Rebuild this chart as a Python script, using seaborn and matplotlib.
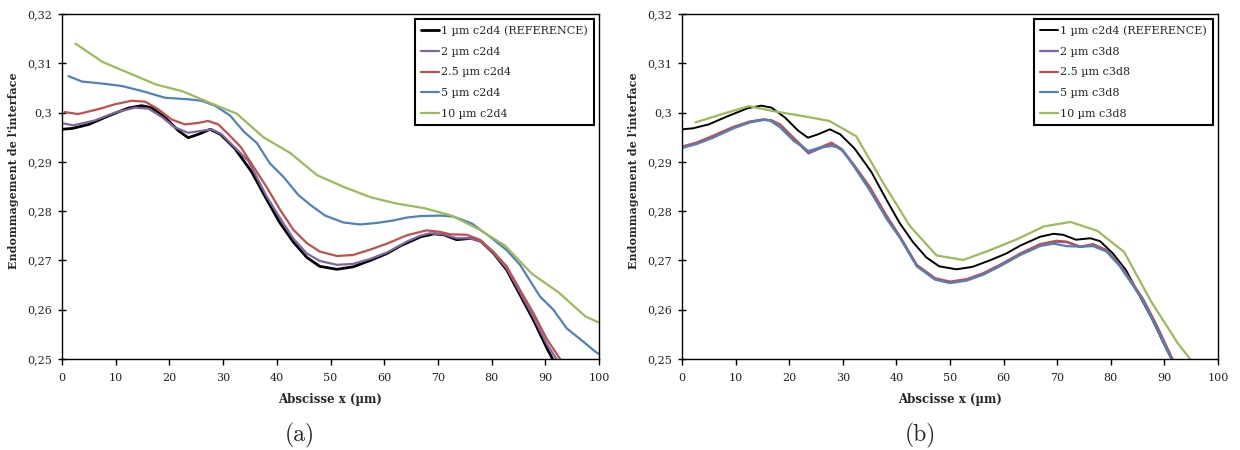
import matplotlib
matplotlib.use("Agg")
import matplotlib.pyplot as plt
import seaborn as sns
import pandas as pd
from matplotlib.ticker import FuncFormatter

# ---------------- data ----------------
# (a) c2d4
ref_x = [0, 2, 5, 8.6, 12.3, 14.8, 16.7, 19.2, 21.7, 23.5, 25.4, 27.6, 29.5, 32.2, 35.3,
         38.1, 40.6, 43.1, 45.6, 48.0, 51.2, 54.2, 57.4, 60.5, 63.1, 66.8, 69.3, 71.1,
         73.5, 76.2, 78.0, 80.4, 82.8, 85.3, 87.8, 90.3, 92.5]
ref_y = [0.2966, 0.2968, 0.2976, 0.2993, 0.3009, 0.3014, 0.3010, 0.2990, 0.2963, 0.2949,
         0.2956, 0.2966, 0.2956, 0.2927, 0.2880, 0.2824, 0.2776, 0.2737, 0.2706, 0.2688,
         0.2682, 0.2687, 0.2700, 0.2714, 0.2730, 0.2748, 0.2754, 0.2752, 0.2742, 0.2745,
         0.2739, 0.2714, 0.2681, 0.2630, 0.2579, 0.2522, 0.2476]

a2_x = [0.3, 2.1, 6.1, 9.9, 13.6, 16.1, 18.6, 21.0, 23.5, 26.0, 27.9, 29.7, 32.2, 34.7,
        38.1, 40.6, 43.1, 45.6, 48.0, 51.2, 54.2, 57.4, 60.5, 64.2, 66.7, 68.5, 71.0,
        73.5, 76.0, 78.0, 80.3, 82.8, 85.3, 87.8, 90.3, 93.0]
a2_y = [0.2978, 0.2974, 0.2984, 0.3000, 0.3010, 0.3008, 0.2991, 0.2970, 0.2959, 0.2963,
        0.2966, 0.2956, 0.2929, 0.2902, 0.2830, 0.2786, 0.2744, 0.2714, 0.2699, 0.2691,
        0.2693, 0.2703, 0.2716, 0.2738, 0.2750, 0.2755, 0.2753, 0.2745, 0.2745, 0.2738,
        0.2716, 0.2684, 0.2635, 0.2585, 0.2530, 0.2484]

a25_x = [0.5, 3.0, 6.8, 9.9, 13.0, 15.5, 17.9, 20.4, 22.9, 25.4, 27.2, 29.1, 31.0, 33.3,
         35.6, 38.1, 40.6, 43.1, 45.6, 48.0, 51.2, 54.2, 57.4, 60.5, 64.2, 67.9, 70.4,
         72.3, 75.4, 77.8, 80.3, 82.8, 85.3, 87.8, 90.3, 92.7, 94.5]
a25_y = [0.3001, 0.2997, 0.3007, 0.3017, 0.3024, 0.3022, 0.3007, 0.2986, 0.2976, 0.2979,
         0.2983, 0.2976, 0.2956, 0.2930, 0.2891, 0.2849, 0.2803, 0.2762, 0.2735, 0.2718,
         0.2709, 0.2711, 0.2722, 0.2734, 0.2751, 0.2761, 0.2758, 0.2753, 0.2752, 0.2742,
         0.2718, 0.2688, 0.2640, 0.2593, 0.2540, 0.2501, 0.2470]

a5_x = [1.2, 3.7, 7.4, 11.1, 14.8, 19.2, 23.5, 26.0, 28.5, 31.3, 33.8, 36.3, 38.7, 41.2,
        44.0, 46.2, 49.0, 52.4, 55.5, 58.6, 61.7, 64.2, 66.7, 70.4, 72.9, 76.3, 79.7,
        82.8, 85.3, 89.0, 91.5, 94.0, 97.1, 99.3, 100]
a5_y = [0.3074, 0.3063, 0.3059, 0.3054, 0.3044, 0.3030, 0.3027, 0.3024, 0.3014, 0.2994,
        0.2962, 0.2938, 0.2897, 0.2870, 0.2833, 0.2813, 0.2791, 0.2777, 0.2773, 0.2776,
        0.2781, 0.2787, 0.2790, 0.2791, 0.2789, 0.2775, 0.2748, 0.2721, 0.2691, 0.2627,
        0.2600, 0.2562, 0.2535, 0.2515, 0.2510]

a10_x = [2.5, 7.5, 12.5, 17.5, 22.5, 27.5, 32.5, 37.5, 42.5, 47.5, 52.5, 57.5, 62.5,
         67.5, 72.5, 77.5, 82.5, 87.5, 92.5, 97.5, 100]
a10_y = [0.3140, 0.3103, 0.3080, 0.3057, 0.3043, 0.3020, 0.2998, 0.2950, 0.2918, 0.2873,
         0.2849, 0.2828, 0.2815, 0.2806, 0.2791, 0.2764, 0.2730, 0.2673, 0.2635, 0.2586,
         0.2574]

# (b) c3d8
b_x = [0.3, 2.7, 5.8, 9.6, 12.7, 15.2, 16.7, 18.3, 20.8, 23.6, 25.7, 27.9, 29.8, 32.0,
       35.1, 38.2, 40.7, 43.8, 47.2, 50.0, 53.1, 56.2, 59.3, 63.1, 66.8, 69.9, 71.8,
       74.3, 76.7, 79.2, 81.7, 83.6, 86.0, 88.5, 91.5, 93.0]
b2_y = [0.2931, 0.2938, 0.2952, 0.2970, 0.2981, 0.2986, 0.2984, 0.2975, 0.2947, 0.2917,
        0.2927, 0.2937, 0.2924, 0.2894, 0.2846, 0.2789, 0.2747, 0.2690, 0.2663, 0.2656,
        0.2661, 0.2673, 0.2690, 0.2713, 0.2732, 0.2738, 0.2737, 0.2727, 0.2732, 0.2720,
        0.2690, 0.2660, 0.2621, 0.2568, 0.2499, 0.2464]
b25_y = [0.2932, 0.2939, 0.2953, 0.2971, 0.2982, 0.2986, 0.2984, 0.2976, 0.2949, 0.2920,
         0.2929, 0.2939, 0.2926, 0.2895, 0.2848, 0.2790, 0.2748, 0.2691, 0.2664, 0.2657,
         0.2662, 0.2674, 0.2691, 0.2714, 0.2733, 0.2740, 0.2738, 0.2728, 0.2733, 0.2721,
         0.2691, 0.2661, 0.2622, 0.2570, 0.2500, 0.2465]
b5_x = [0.3, 2.7, 5.8, 9.6, 12.7, 15.2, 16.4, 18.3, 20.8, 23.6, 25.7, 27.9, 28.9, 30.1,
        32.0, 35.1, 38.2, 40.7, 43.8, 47.2, 50.0, 53.1, 56.2, 59.3, 63.1, 66.8, 69.3,
        71.8, 74.3, 76.7, 79.2, 81.7, 83.6, 86.0, 88.5, 91.3, 93.0]
b5_y = [0.2929, 0.2936, 0.2949, 0.2968, 0.2980, 0.2985, 0.2984, 0.2970, 0.2943, 0.2922,
        0.2929, 0.2932, 0.2930, 0.2922, 0.2892, 0.2841, 0.2784, 0.2745, 0.2688, 0.2661,
        0.2654, 0.2659, 0.2671, 0.2688, 0.2711, 0.2729, 0.2734, 0.2729, 0.2728, 0.2729,
        0.2718, 0.2688, 0.2658, 0.2618, 0.2565, 0.2500, 0.2462]
b10_x = [2.5, 7.5, 12.5, 17.5, 22.5, 27.5, 32.5, 37.5, 42.5, 47.5, 52.5, 57.5, 62.5,
         67.5, 72.5, 77.5, 82.5, 87.5, 92.5, 97.5]
b10_y = [0.2980, 0.2997, 0.3013, 0.3002, 0.2993, 0.2983, 0.2952, 0.2858, 0.2770, 0.2710,
         0.2701, 0.2721, 0.2743, 0.2769, 0.2778, 0.2760, 0.2717, 0.2617, 0.2532, 0.2462]

labels_a = ["1 µm c2d4 (REFERENCE)", "2 µm c2d4", "2.5 µm c2d4", "5 µm c2d4", "10 µm c2d4"]
labels_b = ["1 µm c2d4 (REFERENCE)", "2 µm c3d8", "2.5 µm c3d8", "5 µm c3d8", "10 µm c3d8"]
colors = ["#000000", "#8064A2", "#C0504D", "#4F81BD", "#9BBB59"]

x_ticks = list(range(0, 101, 10))
y_ticks = [0.25, 0.26, 0.27, 0.28, 0.29, 0.30, 0.31, 0.32]

# ---------------- styling ----------------
sns.set_style("ticks")
plt.rcParams["font.family"] = ["DejaVu Serif"]

fig = plt.figure(figsize=(12.4, 4.5), dpi=100)
W, H = 1240, 450
axL = fig.add_axes([62 / W, 1 - 359 / H, 537 / W, 345 / H])
axR = fig.add_axes([682 / W, 1 - 359 / H, 536 / W, 345 / H])

series_a = [(ref_x, ref_y), (a2_x, a2_y), (a25_x, a25_y), (a5_x, a5_y), (a10_x, a10_y)]
series_b = [(ref_x, ref_y), (b_x, b2_y), (b_x, b25_y), (b5_x, b5_y), (b10_x, b10_y)]

fmt = FuncFormatter(lambda v, p: ("%.2f" % v).rstrip("0").replace(".", ","))

for ax, series, labels, tag, cx, black_lw in [(axL, series_a, labels_a, "(a)", 300, 2.0),
                                               (axR, series_b, labels_b, "(b)", 920, 1.4)]:
    for i, ((xs, ys), lab, col) in enumerate(zip(series, labels, colors)):
        df = pd.DataFrame({"x": xs, "y": ys})
        sns.lineplot(data=df, x="x", y="y", ax=ax, color=col, label=lab,
                     linewidth=black_lw if i == 0 else 1.6, sort=False)
    ax.set_xlim(0, 100)
    ax.set_ylim(0.25, 0.32)
    ax.set_xticks(x_ticks)
    ax.set_yticks(y_ticks)
    ax.yaxis.set_major_formatter(fmt)
    for s in ax.spines.values():
        s.set_visible(True)
        s.set_color("black")
        s.set_linewidth(1.0)
    ax.tick_params(axis="both", width=1, color="black", labelsize=8,
                   labelcolor="#222222")
    ax.tick_params(axis="y", direction="inout", length=6, pad=4)
    ax.tick_params(axis="x", direction="out", length=4, pad=6)
    ax.set_xlabel("Abscisse x (µm)", fontsize=8.5, fontweight="bold", labelpad=7)
    ax.set_ylabel("Endommagement de l'interface", fontsize=8, fontweight="bold")
    ax.yaxis.set_label_coords(-0.080, 0.545)
    leg = ax.legend(loc="upper right", bbox_to_anchor=(0.99, 0.985), frameon=True,
                    fancybox=False, framealpha=1, edgecolor="black", fontsize=8,
                    handlelength=1.6, handletextpad=0.15, labelspacing=0.97,
                    borderpad=0.55, borderaxespad=0.0)
    leg.get_frame().set_linewidth(1.5)
    fig.text(cx / W, 1 - 435 / H, tag, ha="center", va="center", fontsize=17,
             family="cmr10")

fig.savefig("out.png", dpi=100)
